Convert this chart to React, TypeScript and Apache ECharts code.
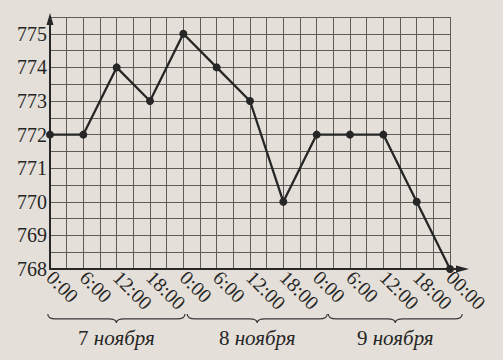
import React, { useEffect, useRef } from "react";
import * as echarts from "echarts";

// ---- data ----
const hours = [0, 6, 12, 18, 24, 30, 36, 42, 48, 54, 60, 66, 72];
const pressure = [772, 772, 774, 773, 775, 774, 773, 770, 772, 772, 772, 770, 768];
const tickLabels = ["0:00", "6:00", "12:00", "18:00", "0:00", "6:00", "12:00", "18:00", "0:00", "6:00", "12:00", "18:00", "00:00"];
const dayNumbers = ["7", "8", "9"];
const dayWord = "ноября";
const daySpans: [number, number][] = [
  [-0.4, 24.3],
  [24.7, 49.9],
  [50.1, 74.2],
];
const yMin = 768;
const yMax = 775.5;
const xMax = 72;

const INK = "#262626";
const GRIDC = "#5f5c58";
const FONT = "'Liberation Serif', 'DejaVu Serif', serif";

let registered = false;
function registerBrace() {
  if (registered) return;
  registered = true;
  const Brace = echarts.graphic.extendShape({
    shape: { x1: 0, x2: 100, y: 0, h: 9 },
    buildPath(ctx: any, s: any) {
      const { x1, x2, y, h } = s;
      const xm = (x1 + x2) / 2;
      const q = 8;
      const ym = y + h * 0.55;
      ctx.moveTo(x1, y);
      ctx.quadraticCurveTo(x1, ym, x1 + q, ym);
      ctx.lineTo(xm - q, ym);
      ctx.quadraticCurveTo(xm, ym, xm, y + h);
      ctx.quadraticCurveTo(xm, ym, xm + q, ym);
      ctx.lineTo(x2 - q, ym);
      ctx.quadraticCurveTo(x2, ym, x2, y);
    },
  });
  echarts.graphic.registerShape("brace", Brace as any);
}

export default function App() {
  const ref = useRef<HTMLDivElement>(null);
  useEffect(() => {
    if (!ref.current) return;
    registerBrace();
    const chart = echarts.init(ref.current, null, { renderer: "svg" });
    chart.setOption({
      animation: false,
      backgroundColor: "#e4dfd8",
      grid: { left: 50, right: 53, top: 17, bottom: 91 },
      xAxis: {
        type: "value",
        min: 0,
        max: xMax,
        interval: 3,
        axisLine: { show: true, onZero: false, lineStyle: { color: INK, width: 2 } },
        axisTick: { show: false },
        splitLine: { show: true, lineStyle: { color: GRIDC, width: 1 } },
        axisLabel: {
          rotate: -45,
          margin: 5,
          color: INK,
          fontFamily: FONT,
          fontSize: 20,
          formatter: (v: number) => (v % 6 === 0 ? tickLabels[v / 6] : ""),
        },
      },
      yAxis: {
        type: "value",
        min: yMin,
        max: yMax,
        interval: 0.5,
        axisLine: { show: true, lineStyle: { color: INK, width: 2 } },
        axisTick: { show: false },
        splitLine: { show: true, lineStyle: { color: GRIDC, width: 1 } },
        axisLabel: {
          margin: 3,
          color: INK,
          fontFamily: FONT,
          fontSize: 20,
          formatter: (v: number) => (Number.isInteger(v) ? String(v) : ""),
        },
      },
      series: [
        {
          type: "line",
          data: hours.map((h, i) => [h, pressure[i]]),
          symbol: "circle",
          symbolSize: 8,
          lineStyle: { color: INK, width: 2.3 },
          itemStyle: { color: INK },
          z: 5,
        },
      ],
    });

    const px = (h: number) => chart.convertToPixel({ xAxisIndex: 0 }, h) as number;
    const py = (v: number) => chart.convertToPixel({ yAxisIndex: 0 }, v) as number;
    const x0 = px(0);
    const xEnd = px(xMax);
    const yBase = py(yMin);
    const yTop = py(yMax);
    const braceY = yBase + 45;
    const graphic: any[] = [
      { type: "line", shape: { x1: xEnd, y1: yBase, x2: xEnd + 14, y2: yBase }, style: { stroke: INK, lineWidth: 2 }, z: 10 },
      { type: "polygon", shape: { points: [[xEnd + 19, yBase], [xEnd + 6, yBase - 3.5], [xEnd + 6, yBase + 3.5]] }, style: { fill: INK }, z: 10 },
      { type: "polygon", shape: { points: [[x0, yTop - 4], [x0 - 3.5, yTop + 8], [x0 + 3.5, yTop + 8]] }, style: { fill: INK }, z: 10 },
    ];
    daySpans.forEach(([a, b], i) => {
      const xa = px(a);
      const xb = px(b);
      graphic.push({
        type: "brace",
        shape: { x1: xa, x2: xb, y: braceY, h: 9 },
        style: { stroke: "#3a3a3a", fill: "none", lineWidth: 1.2 },
      });
      graphic.push({
        type: "text",
        x: (xa + xb) / 2,
        y: braceY + 24,
        style: {
          text: `{n|${dayNumbers[i]} }{i|${dayWord}}`,
          align: "center",
          verticalAlign: "middle",
          rich: {
            n: { fontFamily: FONT, fontSize: 21, fill: INK },
            i: { fontFamily: FONT, fontSize: 21, fontStyle: "italic", fill: INK },
          },
        },
      });
    });
    chart.setOption({ graphic });
    return () => chart.dispose();
  }, []);
  return (
    <div
      ref={ref}
      style={{ position: "fixed", left: 0, top: 0, width: 503, height: 360 }}
    />
  );
}
